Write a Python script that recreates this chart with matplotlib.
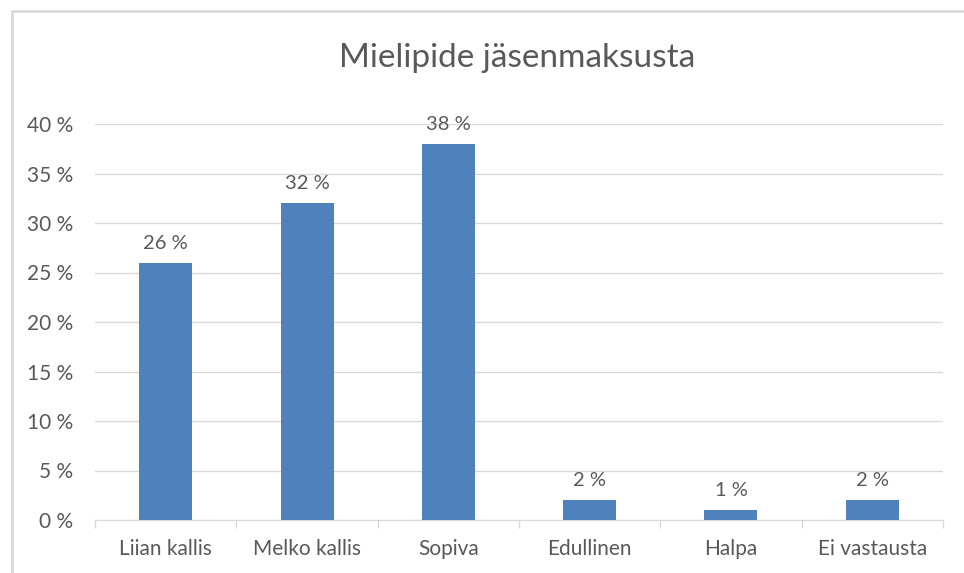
import numpy as np
import matplotlib.pyplot as plt
from matplotlib.patches import Rectangle
from matplotlib.ticker import FuncFormatter

plt.rcParams['font.family'] = ['Lato', 'DejaVu Sans']

categories = ["Liian kallis", "Melko kallis", "Sopiva", "Edullinen", "Halpa", "Ei vastausta"]
values = [26, 32, 38, 2, 1, 2]
title = "Mielipide jäsenmaksusta"

txt = "#595959"
grid = "#d9d9d9"

fig = plt.figure(figsize=(9.64, 5.73), dpi=100)
ax = fig.add_axes([95 / 964, 53 / 573, 848 / 964, 396 / 573])

# chart frame (only top and left edges are in the picture)
fig.patches.append(Rectangle((12 / 964, -0.1), 1.2, (573 - 11) / 573 + 0.1,
                             transform=fig.transFigure, fill=False,
                             edgecolor="#d9d9d9", linewidth=2))

x = np.arange(len(categories))
ax.bar(x, values, width=0.375, color="#4f81bd", zorder=3)
for xi, v in zip(x, values):
    ax.text(xi, v + 1.1, f"{v} %", ha="center", va="bottom", fontsize=14.5, color=txt)

ax.set_xlim(-0.5, len(categories) - 0.5)
ax.set_ylim(0, 40)
ax.set_yticks(np.arange(0, 41, 5))
ax.yaxis.set_major_formatter(FuncFormatter(lambda v, p: f"{v:.0f} %"))
ax.yaxis.grid(True, color=grid, linewidth=1, zorder=0)
ax.tick_params(axis="y", length=0, pad=16, labelsize=15, labelcolor=txt)

ax.set_xticks(x)
ax.set_xticklabels(categories)
ax.set_xticks(np.arange(-0.5, len(categories)), minor=True)
ax.tick_params(axis="x", which="major", length=0, pad=14, labelsize=15, labelcolor=txt)
ax.tick_params(axis="x", which="minor", length=6, color=grid, width=1)

for s in ["top", "right", "left"]:
    ax.spines[s].set_visible(False)
ax.spines["bottom"].set_color(grid)

# title is centred on the full (cropped) chart frame, not the image
fig.text(517 / 964, 1 - 58 / 573, title, ha="center", va="center", fontsize=24, color=txt)

fig.savefig("out.png", dpi=100)
